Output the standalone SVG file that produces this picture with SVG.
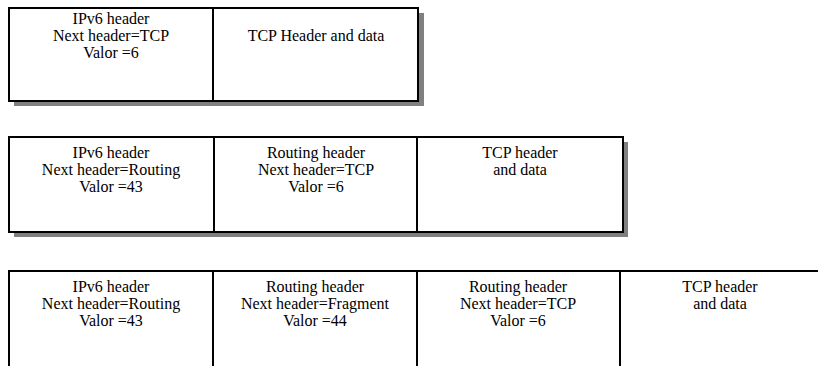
<svg xmlns="http://www.w3.org/2000/svg" width="818" height="366" viewBox="0 0 818 366">
<defs>
<style>
.box{fill:#fff;stroke:#000;stroke-width:2}
.sh{fill:#808080}
.div{stroke:#000;stroke-width:2}
</style>
</defs>
<rect width="818" height="366" fill="#fff"/>
<g id="row1">
<rect class="sh" x="14" y="13" width="410" height="93"/>
<rect class="box" x="9" y="8" width="409" height="93"/>
<line class="div" x1="213" y1="8" x2="213" y2="101"/>
<g id="r1c1"><text x="111" y="24" font-family="Liberation Serif" font-size="16" text-anchor="middle">IPv6 header</text><text x="111" y="41" font-family="Liberation Serif" font-size="16" text-anchor="middle">Next header=TCP</text><text x="111" y="58" font-family="Liberation Serif" font-size="16" text-anchor="middle">Valor =6</text></g>
<g id="r1c2"><text x="316" y="41" font-family="Liberation Serif" font-size="16" text-anchor="middle">TCP Header and data</text></g>
</g>
<g id="row2">
<rect class="sh" x="14" y="142" width="614" height="95"/>
<rect class="box" x="9" y="137" width="614" height="95"/>
<line class="div" x1="214" y1="137" x2="214" y2="232"/>
<line class="div" x1="417" y1="137" x2="417" y2="232"/>
<g id="r2c1"><text x="111" y="158" font-family="Liberation Serif" font-size="16" text-anchor="middle">IPv6 header</text><text x="111" y="175" font-family="Liberation Serif" font-size="16" text-anchor="middle">Next header=Routing</text><text x="111" y="192" font-family="Liberation Serif" font-size="16" text-anchor="middle">Valor =43</text></g>
<g id="r2c2"><text x="316" y="158" font-family="Liberation Serif" font-size="16" text-anchor="middle">Routing header</text><text x="316" y="175" font-family="Liberation Serif" font-size="16" text-anchor="middle">Next header=TCP</text><text x="316" y="192" font-family="Liberation Serif" font-size="16" text-anchor="middle">Valor =6</text></g>
<g id="r2c3"><text x="520" y="158" font-family="Liberation Serif" font-size="16" text-anchor="middle">TCP header</text><text x="520" y="175" font-family="Liberation Serif" font-size="16" text-anchor="middle">and data</text></g>
</g>
<g id="row3">
<rect class="box" x="9" y="271" width="820" height="110"/>
<line class="div" x1="213" y1="271" x2="213" y2="366"/>
<line class="div" x1="417" y1="271" x2="417" y2="366"/>
<line class="div" x1="620" y1="271" x2="620" y2="366"/>
<g id="r3c1"><text x="111" y="292" font-family="Liberation Serif" font-size="16" text-anchor="middle">IPv6 header</text><text x="111" y="309" font-family="Liberation Serif" font-size="16" text-anchor="middle">Next header=Routing</text><text x="111" y="326" font-family="Liberation Serif" font-size="16" text-anchor="middle">Valor =43</text></g>
<g id="r3c2"><text x="315" y="292" font-family="Liberation Serif" font-size="16" text-anchor="middle">Routing header</text><text x="315" y="309" font-family="Liberation Serif" font-size="16" text-anchor="middle">Next header=Fragment</text><text x="315" y="326" font-family="Liberation Serif" font-size="16" text-anchor="middle">Valor =44</text></g>
<g id="r3c3"><text x="518" y="292" font-family="Liberation Serif" font-size="16" text-anchor="middle">Routing header</text><text x="518" y="309" font-family="Liberation Serif" font-size="16" text-anchor="middle">Next header=TCP</text><text x="518" y="326" font-family="Liberation Serif" font-size="16" text-anchor="middle">Valor =6</text></g>
<g id="r3c4"><text x="720" y="292" font-family="Liberation Serif" font-size="16" text-anchor="middle">TCP header</text><text x="720" y="309" font-family="Liberation Serif" font-size="16" text-anchor="middle">and data</text></g>
</g>
</svg>
